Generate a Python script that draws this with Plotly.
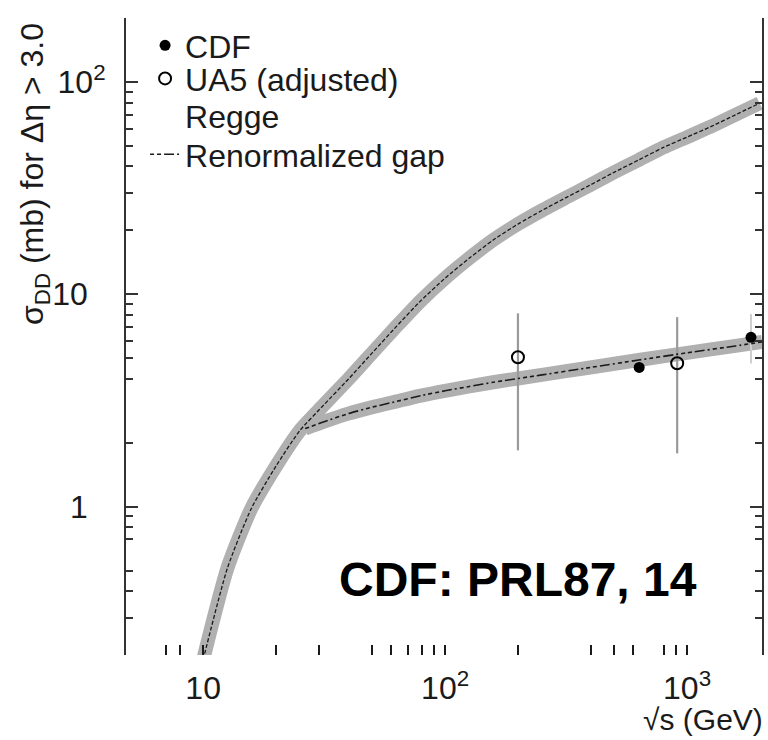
import math
import plotly.graph_objects as go

# ---------------- data ----------------
regge_x = [10, 12.6, 15.8, 20, 25.1, 31.6, 39.8, 50.1, 63.1, 79.4, 100, 126, 158, 200,
           251, 316, 398, 501, 631, 794, 1000, 1259, 1585, 1995]
regge_y = [0.19, 0.513, 0.977, 1.55, 2.28, 3.02, 3.98, 5.31, 7.08, 9.33, 11.9, 14.8, 18.0, 21.4,
           24.8, 28.5, 32.7, 37.6, 42.9, 49.0, 55.0, 61.7, 70.0, 79.4]

gap_x = [26.4, 31.6, 39.8, 50.1, 63.1, 79.4, 100, 126, 158, 251, 398, 631, 1000, 1585, 2042]
gap_y = [2.33, 2.51, 2.74, 2.94, 3.13, 3.33, 3.51, 3.68, 3.85, 4.17, 4.52, 4.90, 5.30, 5.71, 5.96]

cdf_x = [634, 1837]
cdf_y = [4.52, 6.27]
cdf_err_plus = [0.0, 1.8]
cdf_err_minus = [0.0, 1.55]

ua5_x = [200, 910]
ua5_y = [5.05, 4.73]
ua5_err_plus = [3.08, 3.07]
ua5_err_minus = [3.21, 2.95]

x_major = [10, 100, 1000]
x_major_text = ["10", "10<sup>2</sup>", "10<sup>3</sup>"]
x_minor = [7, 8, 20, 30, 50, 60, 70, 80, 90, 200, 400, 500, 600, 800, 900]

NB = "\u00a0"
y_major = [1, 10, 100]
y_major_text = ["1" + NB * 2, "10" + NB * 2, "10<sup>2</sup>"]
y_minor = [0.3, 0.4, 0.5, 0.7, 0.8, 0.9, 2, 4, 5, 6, 7, 8, 9,
           20, 30, 40, 50, 60, 70, 80, 90]

FONT = "Liberation Sans, Arial, Helvetica, sans-serif"
BAND = "#b0b0b0"
INK = "#1a1a1a"
LEGEND_FONT = dict(family=FONT, size=32, color=INK)

fig = go.Figure()

# grey bands
fig.add_trace(go.Scatter(x=regge_x, y=regge_y, mode="lines",
                         line=dict(color=BAND, width=14, shape="spline", smoothing=0.6),
                         showlegend=False, hoverinfo="skip"))
fig.add_trace(go.Scatter(x=gap_x, y=gap_y, mode="lines",
                         line=dict(color=BAND, width=14, shape="spline", smoothing=0.6),
                         showlegend=False, hoverinfo="skip"))

# data points (legend entries)
fig.add_trace(go.Scatter(x=cdf_x, y=cdf_y, mode="markers", name="CDF", legend="legend",
                         marker=dict(symbol="circle", size=11, color="black"),
                         error_y=dict(type="data", array=cdf_err_plus,
                                      arrayminus=cdf_err_minus, color="#cfcfcf",
                                      thickness=2, width=0)))
fig.add_trace(go.Scatter(x=ua5_x, y=ua5_y, mode="markers", name="UA5 (adjusted)",
                         legend="legend2",
                         marker=dict(symbol="circle-open", size=12, color="black",
                                     line=dict(width=2)),
                         error_y=dict(type="data", array=ua5_err_plus,
                                      arrayminus=ua5_err_minus, color="#9a9a9a",
                                      thickness=2.2, width=0)))
# Regge legend text only
fig.add_trace(go.Scatter(x=[None], y=[None], mode="lines", name="Regge", legend="legend3",
                         line=dict(color="rgba(0,0,0,0)", width=0)))
# centre lines
fig.add_trace(go.Scatter(x=regge_x, y=regge_y, mode="lines", showlegend=False,
                         line=dict(color=INK, width=1.3, dash="4px,2px",
                                   shape="spline", smoothing=0.6)))
fig.add_trace(go.Scatter(x=gap_x, y=gap_y, mode="lines", name="Renormalized gap",
                         legend="legend4",
                         line=dict(color=INK, width=1.6, dash="4px,3px,4px,3px,10px,3px,2px,3px",
                                   shape="spline", smoothing=0.6)))

fig.add_annotation(text="CDF: PRL87, 14", xref="paper", yref="paper",
                   x=0.616, y=0.074, showarrow=False,
                   font=dict(family=FONT, size=48, color="black", weight="bold"))

fig.add_annotation(text="σ<sub>DD</sub> (mb) for Δη > 3.0", xref="paper", yref="paper",
                   x=-0.1447, y=0.755, xanchor="center", yanchor="middle",
                   textangle=-90, showarrow=False,
                   font=dict(family=FONT, size=32, color=INK))

fig.add_annotation(text="√s (GeV)", xref="paper", yref="paper",
                   x=1.005, y=-0.1303, xanchor="right", yanchor="bottom", showarrow=False,
                   font=dict(family=FONT, size=30, color=INK))

fig.update_xaxes(type="log", range=[math.log10(4.8), math.log10(2040)],
                 tickvals=x_major, ticktext=x_major_text, automargin=False,
                 ticks="inside", ticklen=10, tickwidth=1.6, tickcolor=INK,
                 showline=False, showgrid=False, zeroline=False,
                 ticklabelstandoff=11,
                 tickfont=dict(family=FONT, size=32, color=INK),
                 minor=dict(tickvals=x_minor, ticks="inside", ticklen=10,
                            tickwidth=1.6, tickcolor=INK, showgrid=False))
fig.update_yaxes(type="log", range=[math.log10(0.2), math.log10(200)],
                 tickvals=y_major, ticktext=y_major_text, automargin=False,
                 ticks="inside", ticklen=12, tickwidth=2, tickcolor="#333",
                 showline=True, linewidth=2, linecolor="#333", mirror="ticks",
                 showgrid=False, zeroline=False,
                 ticklabelstandoff=12,
                 tickfont=dict(family=FONT, size=32, color=INK),
                 minor=dict(tickvals=y_minor, ticks="inside", ticklen=7,
                            tickwidth=2, tickcolor="#333", showgrid=False))

def leg(ypaper):
    return dict(x=0.030, y=ypaper, xanchor="left", yanchor="top",
                bgcolor="rgba(0,0,0,0)", borderwidth=0, font=LEGEND_FONT,
                itemwidth=30)

fig.update_layout(width=768, height=740,
                  margin=dict(l=126, r=6, t=18, b=85),
                  paper_bgcolor="white", plot_bgcolor="white",
                  font=dict(family=FONT, color=INK),
                  legend=leg(1.0), legend2=leg(0.948), legend3=leg(0.890),
                  legend4=leg(0.829))

fig.write_html("out.html", config={"displayModeBar": False},
               post_script="document.body.style.margin='0px';"
                           "document.body.style.overflow='hidden';")
